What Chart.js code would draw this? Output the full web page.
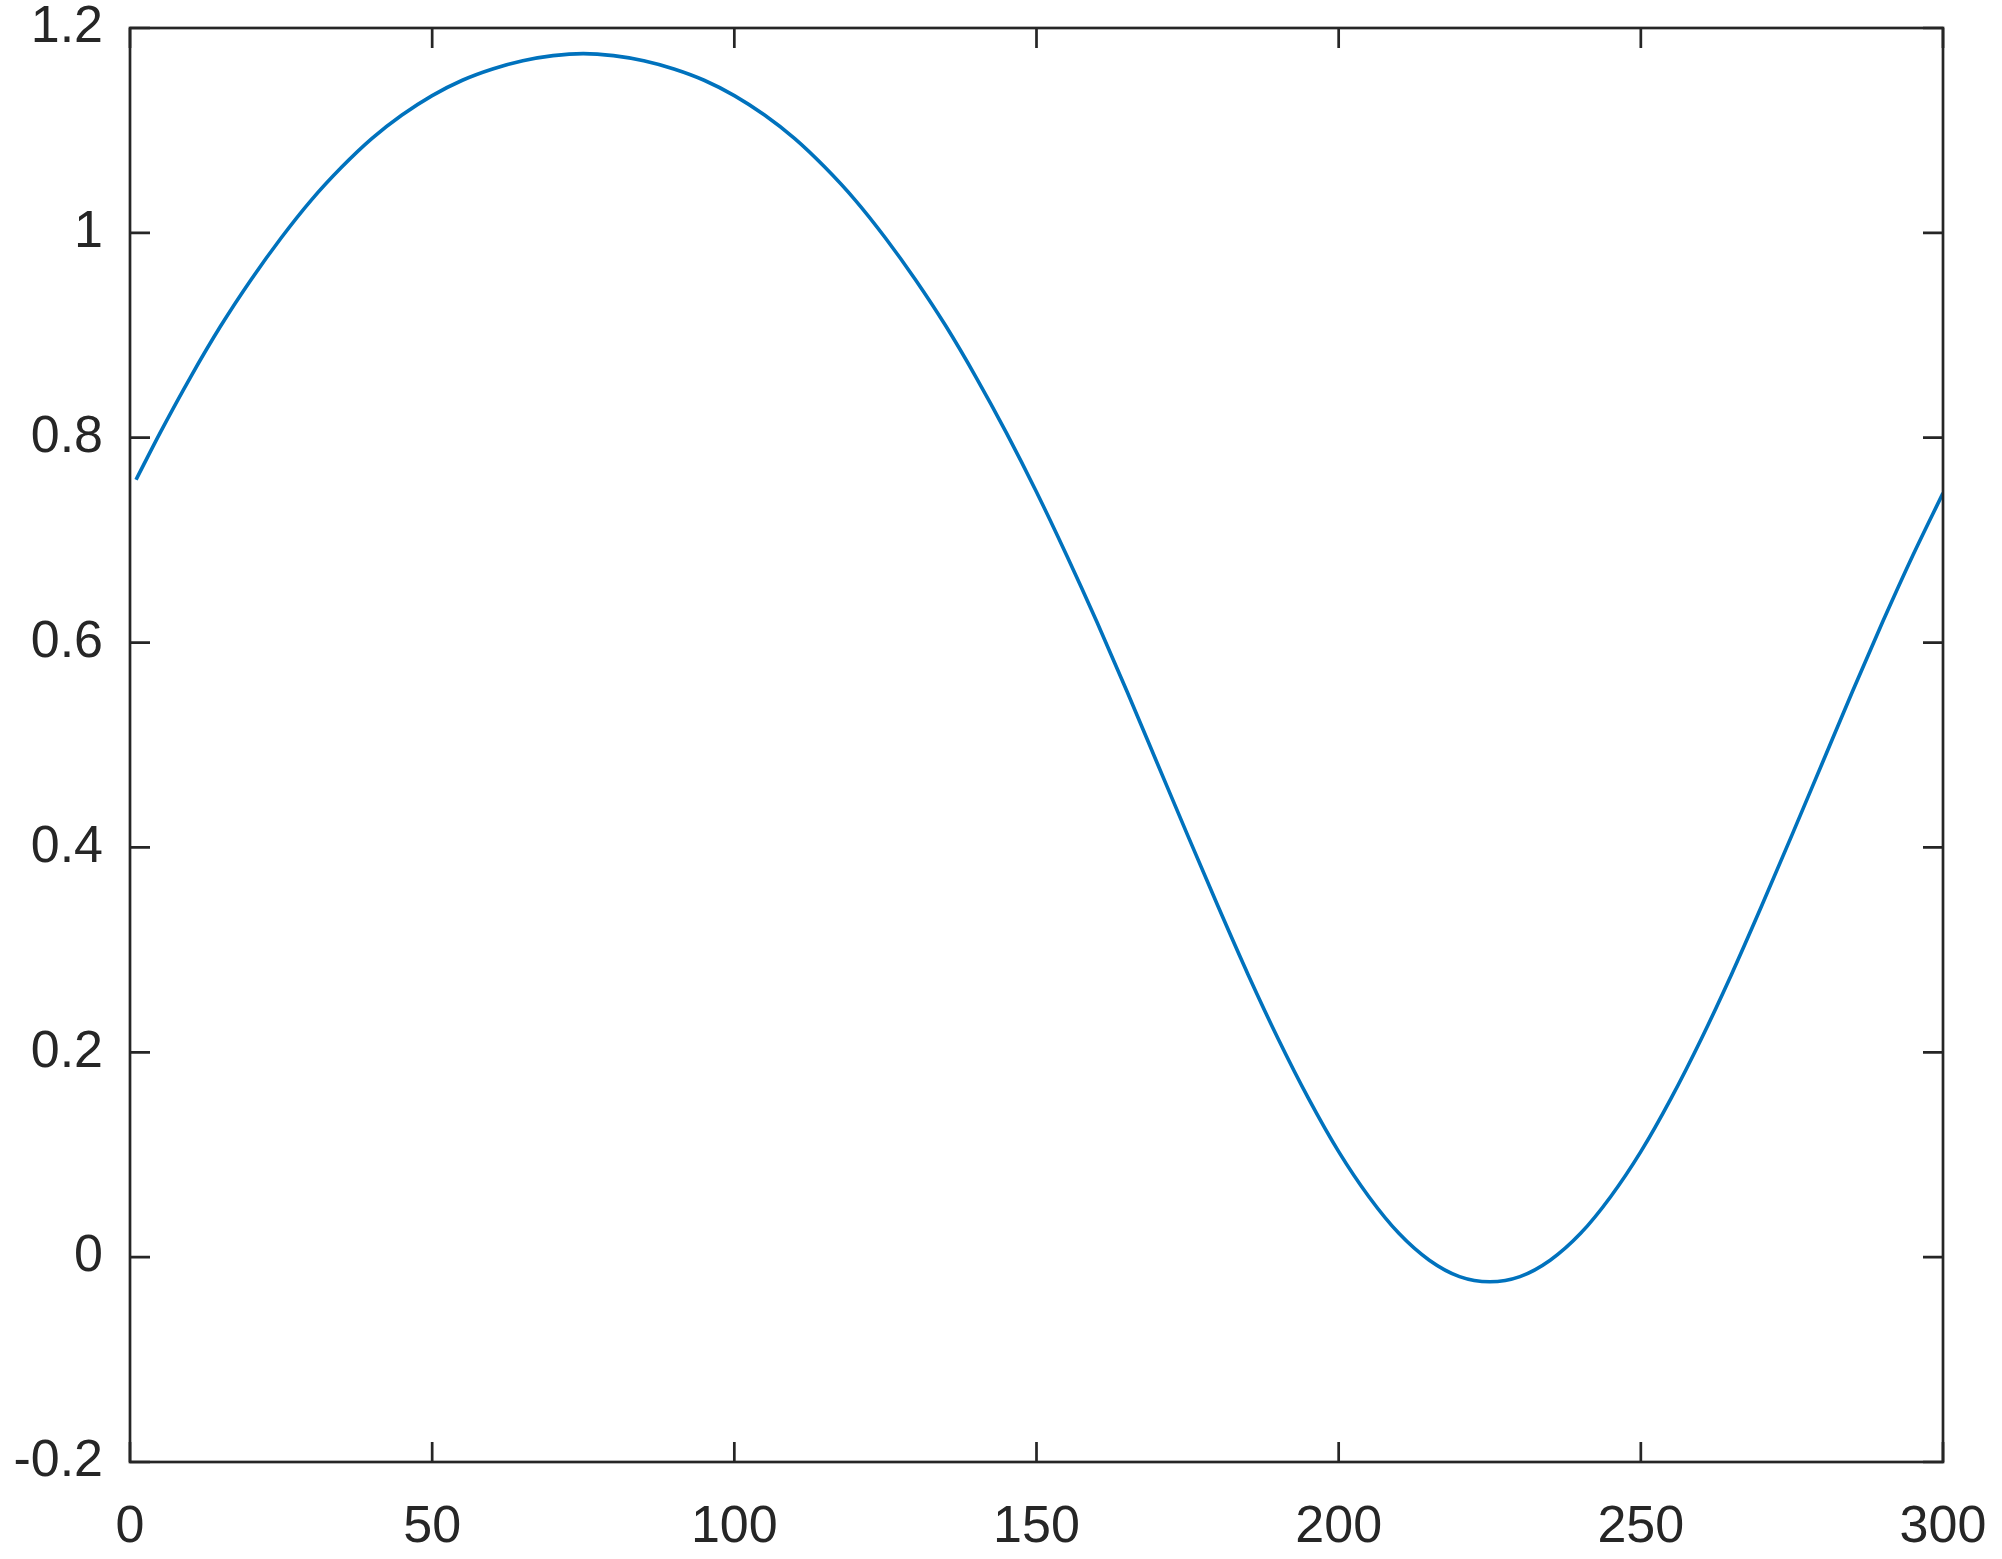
<!DOCTYPE html>
<html>
<head>
<meta charset="utf-8">
<script src="https://cdn.jsdelivr.net/npm/chart.js@4/dist/chart.umd.min.js"></script>
<style>
  html, body { margin: 0; padding: 0; background: #ffffff; }
  canvas { display: block; }
</style>
</head>
<body>
<canvas id="c" width="2002" height="1559"></canvas>
<script>
// ---- data ----
const xValues = [1, 5, 10, 15, 20, 25, 30, 35, 40, 45, 50, 55, 60, 65, 70, 75, 80, 85, 90, 95,
  100, 105, 110, 115, 120, 125, 130, 135, 140, 145, 150, 155, 160, 165, 170, 175, 180, 185, 190, 195,
  200, 205, 210, 215, 220, 225, 230, 235, 240, 245, 250, 255, 260, 265, 270, 275, 280, 285, 290, 295, 300];
const yValues = [0.759, 0.805, 0.859, 0.909, 0.954, 0.995, 1.032, 1.064, 1.092, 1.115, 1.134, 1.149, 1.160, 1.168, 1.173, 1.175, 1.173, 1.168, 1.160, 1.149,
  1.134, 1.115, 1.092, 1.064, 1.032, 0.995, 0.954, 0.909, 0.859, 0.805, 0.747, 0.685, 0.620, 0.552, 0.482, 0.412, 0.343, 0.276, 0.213, 0.155,
  0.103, 0.059, 0.023, -0.003, -0.019, -0.024, -0.019, -0.003, 0.023, 0.059, 0.103, 0.155, 0.213, 0.276, 0.343, 0.412, 0.482, 0.552, 0.620, 0.685, 0.746];
const xTicks = [0, 50, 100, 150, 200, 250, 300];
const xTickLabels = ['0', '50', '100', '150', '200', '250', '300'];
const yTicks = [-0.2, 0, 0.2, 0.4, 0.6, 0.8, 1, 1.2];
const yTickLabels = ['-0.2', '0', '0.2', '0.4', '0.6', '0.8', '1', '1.2'];

const AXIS_COLOR = '#262626';
const LINE_COLOR = '#0072BD';
const FONT = { family: "'Liberation Sans', Arial, Helvetica, sans-serif", size: 52 };

const points = xValues.map((x, i) => ({ x: x, y: yValues[i] }));

// frame + inward tick marks on all four sides (MATLAB box style)
const framePlugin = {
  id: 'frame',
  afterDatasetsDraw(chart) {
    const { ctx, chartArea: a, scales } = chart;
    const sx = scales.x, sy = scales.y;
    const len = 20;
    ctx.save();
    ctx.strokeStyle = AXIS_COLOR;
    ctx.lineWidth = 2.7;
    ctx.lineCap = 'butt';
    ctx.beginPath();
    xTicks.forEach(v => {
      const px = sx.getPixelForValue(v);
      ctx.moveTo(px, a.bottom); ctx.lineTo(px, a.bottom - len);
      ctx.moveTo(px, a.top); ctx.lineTo(px, a.top + len);
    });
    yTicks.forEach(v => {
      const py = sy.getPixelForValue(v);
      ctx.moveTo(a.left, py); ctx.lineTo(a.left + len, py);
      ctx.moveTo(a.right, py); ctx.lineTo(a.right - len, py);
    });
    ctx.stroke();
    ctx.lineJoin = 'miter';
    ctx.strokeRect(a.left, a.top, a.right - a.left, a.bottom - a.top);
    ctx.restore();
  }
};

new Chart(document.getElementById('c'), {
  type: 'line',
  data: {
    datasets: [{
      data: points,
      borderColor: LINE_COLOR,
      borderWidth: 3.6,
      pointRadius: 0,
      fill: false,
      cubicInterpolationMode: 'monotone'
    }]
  },
  options: {
    responsive: false,
    animation: false,
    devicePixelRatio: 1,
    layout: { padding: { left: 15, top: 28, right: 59, bottom: 0 } },
    plugins: { legend: { display: false }, tooltip: { enabled: false }, title: { display: false } },
    scales: {
      x: {
        type: 'linear',
        min: 0, max: 300,
        grid: { display: false, drawTicks: false },
        border: { display: false },
        afterBuildTicks: s => { s.ticks = xTicks.map(v => ({ value: v })); },
        afterFit: s => { s.height = 97; s.paddingLeft = 0; s.paddingRight = 0; },
        ticks: {
          color: AXIS_COLOR,
          font: FONT,
          padding: 34,
          maxRotation: 0,
          autoSkip: false,
          callback: (v) => xTickLabels[xTicks.indexOf(v)]
        }
      },
      y: {
        type: 'linear',
        min: -0.2, max: 1.2,
        grid: { display: false, drawTicks: false },
        border: { display: false },
        afterBuildTicks: s => { s.ticks = yTicks.map(v => ({ value: v })); },
        afterFit: s => { s.width = 115; s.paddingTop = 0; s.paddingBottom = 0; },
        ticks: {
          color: AXIS_COLOR,
          font: FONT,
          padding: 27,
          autoSkip: false,
          callback: (v) => yTickLabels[yTicks.findIndex(t => Math.abs(t - v) < 1e-9)]
        }
      }
    }
  },
  plugins: [framePlugin]
});
</script>
</body>
</html>
